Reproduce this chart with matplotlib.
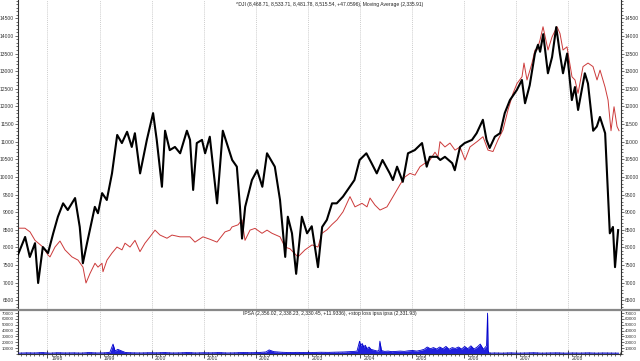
import matplotlib
matplotlib.use("Agg")
import matplotlib.pyplot as plt
from matplotlib.lines import Line2D
from matplotlib.ticker import MultipleLocator
from matplotlib import font_manager

# ---------------- data (decimal years) ----------------
dji_t = [1997.43, 1997.57, 1997.66, 1997.76, 1997.82, 1997.91, 1998.01, 1998.11, 1998.20, 1998.30,
         1998.39, 1998.53, 1998.62, 1998.68, 1998.76, 1998.91, 1998.97, 1999.05, 1999.14, 1999.24,
         1999.34, 1999.43, 1999.53, 1999.62, 1999.68, 1999.78, 1999.91, 2000.03, 2000.10, 2000.20,
         2000.26, 2000.35, 2000.45, 2000.55, 2000.68, 2000.74, 2000.80, 2000.87, 2000.97, 2001.03,
         2001.12, 2001.26, 2001.37, 2001.47, 2001.55, 2001.64, 2001.70, 2001.74, 2001.80, 2001.93,
         2002.03, 2002.13, 2002.22, 2002.37, 2002.47, 2002.57, 2002.62, 2002.70, 2002.78, 2002.89,
         2002.99, 2003.08, 2003.20, 2003.28, 2003.37, 2003.47, 2003.56, 2003.68, 2003.81, 2003.90,
         2004.00, 2004.13, 2004.23, 2004.33, 2004.44, 2004.58, 2004.64, 2004.72, 2004.83, 2004.93,
         2005.06, 2005.20, 2005.29, 2005.35, 2005.49, 2005.55, 2005.64, 2005.78, 2005.83, 2005.93,
         2006.02, 2006.16, 2006.25, 2006.37, 2006.44, 2006.50, 2006.60, 2006.70, 2006.79, 2006.89,
         2007.02, 2007.12, 2007.18, 2007.27, 2007.37, 2007.43, 2007.47, 2007.53, 2007.62, 2007.70,
         2007.78, 2007.85, 2007.91, 2007.99, 2008.08, 2008.14, 2008.20, 2008.33, 2008.39, 2008.49,
         2008.56, 2008.62, 2008.72, 2008.78, 2008.81, 2008.87, 2008.91, 2008.97]
dji_v = [7785, 8296, 7728, 8120, 6990, 8010, 7840, 8400, 8870, 9250,
         9060, 9400, 8580, 7550, 8120, 9150, 8970, 9540, 9345, 10100,
         11190, 10960, 11280, 10850, 11240, 10100, 11050, 11810, 11050, 9720,
         11310, 10760, 10850, 10670, 11310, 11050, 9630, 10960, 11050, 10670,
         11140, 9250, 11310, 10850, 10480, 10290, 9150, 8250, 9150, 9910,
         10190, 9720, 10670, 10290, 9345, 7730, 8870, 8400, 7250, 8870,
         8400, 8600, 7440, 8580, 8780, 9250, 9250, 9440, 9720, 9910,
         10480, 10670, 10390, 10100, 10480, 10100, 9910, 10290, 9860, 10670,
         10760, 10960, 10290, 10570, 10570, 10480, 10570, 10390, 10190, 10850,
         10960, 11050, 11240, 11620, 11050, 10820, 11140, 11240, 11810, 12180,
         12460, 12750, 12090, 12600, 13500, 13750, 13550, 14050, 12940, 13400,
         14250, 13500, 12940, 13500, 12180, 12550, 11900, 12940, 12650, 11310,
         11430, 11700, 11240, 9345, 8400, 8580, 7440, 8490]

ma_t = [1997.433, 1997.567, 1997.664, 1997.760, 1997.913, 1998.010, 1998.048, 1998.144, 1998.240, 1998.336,
        1998.471, 1998.586, 1998.682, 1998.740, 1998.817, 1998.913, 1998.971, 1999.048, 1999.067, 1999.144,
        1999.240, 1999.336, 1999.432, 1999.490, 1999.586, 1999.682, 1999.778, 1999.874, 1999.970, 2000.067,
        2000.163, 2000.297, 2000.393, 2000.547, 2000.739, 2000.835, 2000.989, 2001.124, 2001.258, 2001.412,
        2001.508, 2001.547, 2001.662, 2001.739, 2001.797, 2001.893, 2001.989, 2002.124, 2002.220, 2002.316,
        2002.470, 2002.566, 2002.662, 2002.815, 2002.950, 2003.085, 2003.200, 2003.277, 2003.373, 2003.469,
        2003.565, 2003.681, 2003.815, 2003.911, 2004.046, 2004.142, 2004.200, 2004.296, 2004.392, 2004.526,
        2004.642, 2004.776, 2004.872, 2004.968, 2005.064, 2005.161, 2005.257, 2005.353, 2005.449, 2005.507,
        2005.545, 2005.641, 2005.737, 2005.834, 2005.930, 2006.026, 2006.122, 2006.257, 2006.372, 2006.468,
        2006.564, 2006.660, 2006.756, 2006.853, 2006.949, 2007.026, 2007.122, 2007.160, 2007.218, 2007.275,
        2007.314, 2007.372, 2007.410, 2007.468, 2007.526, 2007.622, 2007.699, 2007.795, 2007.852, 2007.910,
        2007.987, 2008.083, 2008.141, 2008.199, 2008.295, 2008.391, 2008.487, 2008.564, 2008.622, 2008.718,
        2008.776, 2008.833, 2008.891, 2008.949, 2008.987]
ma_v = [8545, 8545, 8440, 8200, 8010, 7785, 7730, 8010, 8180, 7930,
        7730, 7640, 7440, 6990, 7260, 7550, 7440, 7550, 7310, 7640,
        7840, 8010, 7930, 8120, 8010, 8200, 7880, 8120, 8300, 8490,
        8350, 8260, 8350, 8300, 8300, 8150, 8300, 8230, 8150, 8440,
        8490, 8580, 8640, 8780, 8200, 8490, 8540, 8400, 8490, 8400,
        8300, 8010, 7960, 7730, 7930, 8070, 8010, 8400, 8500, 8650,
        8780, 9010, 9440, 9150, 9250, 9150, 9400, 9200, 9060, 9150,
        9440, 9780, 10000, 10100, 10050, 10290, 10390, 10480, 10700, 10570,
        11000, 10850, 10960, 10760, 10850, 10480, 10850, 11000, 11140, 10760,
        10720, 11050, 11330, 11900, 12370, 12650, 12840, 13230, 12750, 13030,
        13230, 13600, 13600, 13880, 14260, 13600, 13970, 14260, 14070, 13600,
        13690, 12840, 12750, 12370, 13130, 13230, 13130, 12750, 13030, 12550,
        12180, 11310, 11990, 11430, 11310]

vol_t = [1997.45, 1997.6, 1997.75, 1997.9, 1998.05, 1998.2, 1998.35, 1998.5, 1998.65, 1998.8,
         1998.95, 1999.1, 1999.2, 1999.26, 1999.3, 1999.35, 1999.5, 1999.65, 1999.8, 1999.95,
         2000.1, 2000.25, 2000.4, 2000.55, 2000.7, 2000.85, 2001.0, 2001.15, 2001.3, 2001.45,
         2001.6, 2001.75, 2001.9, 2002.05, 2002.2, 2002.26, 2002.35, 2002.5, 2002.65, 2002.8,
         2002.95, 2003.1, 2003.25, 2003.4, 2003.55, 2003.7, 2003.8, 2003.9, 2003.95, 2004.0,
         2004.02, 2004.05, 2004.08, 2004.11, 2004.14, 2004.18, 2004.22, 2004.26, 2004.3, 2004.34,
         2004.37, 2004.39, 2004.42, 2004.48, 2004.55, 2004.62, 2004.7, 2004.78, 2004.86, 2004.94,
         2005.02, 2005.1, 2005.18, 2005.24, 2005.3, 2005.36, 2005.42, 2005.48, 2005.54, 2005.6,
         2005.66, 2005.72, 2005.78, 2005.84, 2005.9, 2005.96, 2006.02, 2006.08, 2006.14, 2006.2,
         2006.26, 2006.32, 2006.38, 2006.44, 2006.46, 2006.47, 2006.49, 2006.6, 2006.75, 2006.9,
         2007.05, 2007.2, 2007.35, 2007.5, 2007.65, 2007.8, 2007.95, 2008.1, 2008.25, 2008.4,
         2008.55, 2008.7, 2008.85, 2008.98]
vol_v = [1500, 2000, 1800, 2500, 1500, 2200, 1800, 2000, 1600, 2500,
         1800, 2000, 3000, 17000, 5000, 8000, 2500, 2000, 1800, 2200,
         2000, 2500, 1800, 2000, 2600, 1800, 2200, 2000, 2500, 1800,
         2000, 2600, 2200, 2500, 3500, 7000, 4000, 3000, 2500, 2800,
         2500, 2600, 3000, 2800, 3200, 3500, 4000, 4500, 5000, 22000,
         14000, 18000, 12000, 15000, 9000, 12000, 8000, 7000, 6000, 5000,
         6000, 22000, 6000, 4500, 5000, 4000, 4500, 5000, 4500, 5500,
         6000, 5000, 6500, 8000, 12000, 9000, 11000, 8500, 12000, 9000,
         13000, 8000, 11000, 9500, 12000, 8500, 13000, 9000, 14000, 8500,
         12000, 17000, 8000, 14000, 70000, 6000, 1500, 1800, 1500, 2000,
         1500, 1800, 2200, 1500, 1800, 2000, 1500, 1800, 1600, 2000,
         1500, 1800, 1600, 1500]

years = list(range(1998, 2009))
main_yticks = list(range(6500, 15000, 500))
vol_yticks = list(range(10000, 80000, 10000))
title_main = "^DJI (8,468.71, 8,533.71, 8,481.78, 8,515.54, +47.0596), Moving Average (2,335.91)"
title_vol = "IPSA (2,356.02, 2,338.23, 2,330.45, +11.9336), +stop loss ipsa ipsa (2,331.93)"

# ---------------- fonts ----------------
avail = {f.name for f in font_manager.fontManager.ttflist}
fam = [f for f in ['Liberation Sans Narrow', 'Liberation Sans', 'DejaVu Sans'] if f in avail]
plt.rcParams['font.family'] = fam

# ---------------- figure ----------------
fig = plt.figure(figsize=(6.4, 3.61), dpi=100)
H = 361.0
W = 640.0
xl, xr = 18 / W, 621 / W
ax = fig.add_axes([xl, (H - 310) / H, xr - xl, 310 / H])
ax2 = fig.add_axes([xl, (H - 354) / H, xr - xl, 44 / H])

xlim = (1997.433, 2009.025)
fs = 3.6
tc = '#333333'
for a in (ax, ax2):
    a.set_xlim(*xlim)
    a.spines['top'].set_visible(False)
    for s in ('left', 'right', 'bottom'):
        a.spines[s].set_linewidth(0.8)
        a.spines[s].set_color(tc)
    for y in years:
        a.axvline(y, color='#bbbbbb', lw=0.5, ls=(0, (1.5, 1.5)), zorder=0)

ax.set_ylim(6224, 15019)
ax.plot(ma_t, ma_v, color='#cc3a3a', lw=0.7, zorder=2)
ax.plot(dji_t, dji_v, color='black', lw=1.5, zorder=3)
ax.set_yticks(main_yticks)
ax.yaxis.set_minor_locator(MultipleLocator(100))
ax.tick_params(axis='y', which='both', left=True, right=True, labelleft=True, labelright=True,
               labelsize=fs, direction='out', length=2, width=0.5, pad=0.8, colors=tc)
ax.tick_params(axis='y', which='minor', length=1.2)
ax.tick_params(axis='x', which='both', bottom=False, labelbottom=False)
ax.spines['bottom'].set_visible(False)
ax.text(0.517, 0.993, title_main, transform=ax.transAxes, ha='center', va='top',
        fontsize=3.6, color='#222222')

ax2.set_ylim(0, 75400)
ax2.fill_between(vol_t, 0, vol_v, color='#2020dd', lw=0, zorder=2)
ax2.plot(vol_t, vol_v, color='#0000cc', lw=0.6, zorder=3)
ax2.set_yticks(vol_yticks)
ax2.yaxis.set_minor_locator(MultipleLocator(5000))
ax2.tick_params(axis='y', which='both', left=True, right=True, labelleft=True, labelright=True,
                labelsize=3.2, direction='out', length=2, width=0.5, pad=0.8, colors=tc)
ax2.tick_params(axis='y', which='minor', length=1.2)
ax2.set_xticks(years)
ax2.set_xticklabels([])
ax2.xaxis.set_minor_locator(MultipleLocator(1 / 12))
ax2.tick_params(axis='x', which='major', direction='inout', length=6, width=0.6, colors=tc)
ax2.tick_params(axis='x', which='minor', direction='inout', length=3, width=0.5, colors=tc)
for y in years:
    ax2.text(y + 0.07, -0.04, str(y), transform=ax2.get_xaxis_transform(), ha='left', va='top',
             fontsize=fs, color=tc)
ax2.text(0.517, 0.97, title_vol, transform=ax2.transAxes, ha='center', va='top',
         fontsize=3.6, color='#222222')

# separator between panels
fig.add_artist(Line2D([0, 1], [(H - 310) / H] * 2, color='#888888', lw=1.6))

fig.savefig('out.png', dpi=100, facecolor='white')
